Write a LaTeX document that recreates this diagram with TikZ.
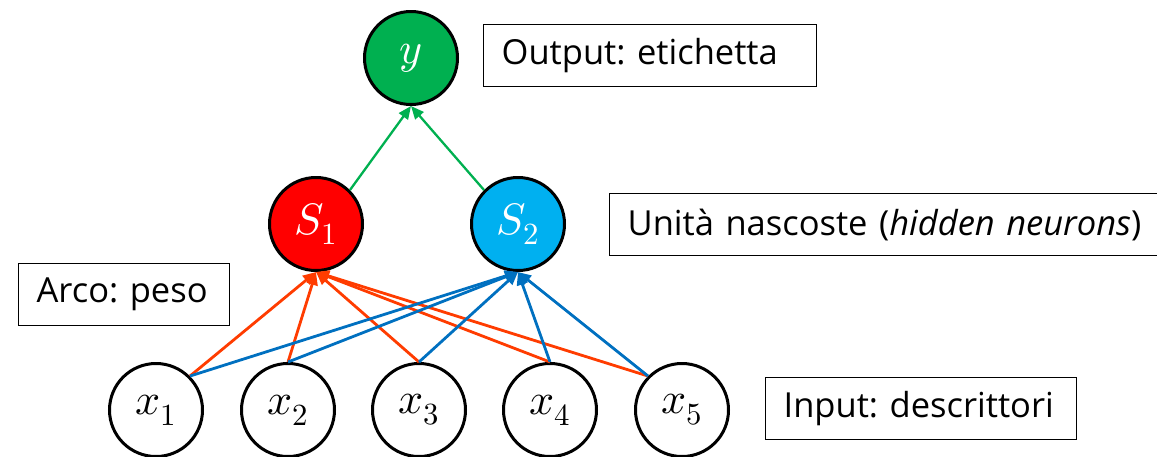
\documentclass[tikz,border=0pt]{standalone}
\usepackage{fontspec}
\usepackage{unicode-math}
\setmainfont{Open Sans}
\setmathfont{Latin Modern Math}
\usetikzlibrary{arrows.meta}
\definecolor{outgreen}{RGB}{0,176,80}
\definecolor{hidred}{RGB}{255,0,0}
\definecolor{hidblue}{RGB}{0,176,240}
\definecolor{wred}{RGB}{255,60,0}
\definecolor{wblue}{RGB}{0,112,192}
\tikzset{
  neuron/.style={circle, draw=black, line width=3pt, minimum size=93pt, inner sep=0pt,
    font=\fontsize{44}{44}\selectfont},
  labelbox/.style={rectangle, draw=black, line width=1.3pt, minimum height=62pt,
    inner xsep=18pt, align=left, font=\fontsize{34.5}{40}\selectfont},
  wire/.style={line width=2.8pt, -{Triangle[length=13pt,width=11pt]}},
  redwire/.style={wire, wred},
  bluewire/.style={wire, wblue},
  greenwire/.style={wire, outgreen, line width=2.3pt}
}
\frenchspacing
\begin{document}
\begin{tikzpicture}[x=1pt,y=-1pt]
  \useasboundingbox (0,0) rectangle (1157,456);
  \clip (0,0) rectangle (1157,456);

  % output, hidden and input neurons
  \node[neuron, fill=outgreen, text=white] (y) at (411,58) {$y$};
  \node[neuron, fill=hidred, text=white] (S1) at (316,224) {$S_1$};
  \node[neuron, fill=hidblue, text=white] (S2) at (518,224) {$S_2$};
  \node[neuron, fill=white] (x1) at (156,410) {$x_1$};
  \node[neuron, fill=white] (x2) at (288,410) {$x_2$};
  \node[neuron, fill=white] (x3) at (419,410) {$x_3$};
  \node[neuron, fill=white] (x4) at (550,410) {$x_4$};
  \node[neuron, fill=white] (x5) at (682,410) {$x_5$};

  % weights into S1
  \draw[redwire] (x1.north east) -- (S1.south);
  \draw[redwire] (x2.north) -- (S1.south);
  \draw[redwire] (x3.north) -- (S1.south);
  \draw[redwire] (x4.north) -- (S1.south);
  \draw[redwire] (x5.north west) -- (S1.south);

  % weights into S2
  \draw[bluewire] (x1.north east) -- (S2.south);
  \draw[bluewire] (x2.north) -- (S2.south);
  \draw[bluewire] (x3.north) -- (S2.south);
  \draw[bluewire] (x4.north) -- (S2.south);
  \draw[bluewire] (x5.north west) -- (S2.south);

  % hidden to output
  \draw[greenwire] (S1.north east) -- (y.south);
  \draw[greenwire] (S2.north west) -- (y.south);

  % captions
  \node[labelbox, text width=297pt, anchor=north west] (outcap) at (483,24) {Output: etichetta};
  \node[labelbox, text width=560pt, anchor=north west] (hidcap) at (609,193) {Unità nascoste (\textit{hidden neurons})};
  \node[labelbox, text width=175pt, anchor=north west] (arccap) at (18,263) {Arco: peso};
  \node[labelbox, text width=275pt, anchor=north west] (incap) at (765,377) {Input: descrittori};
\end{tikzpicture}
\end{document}
